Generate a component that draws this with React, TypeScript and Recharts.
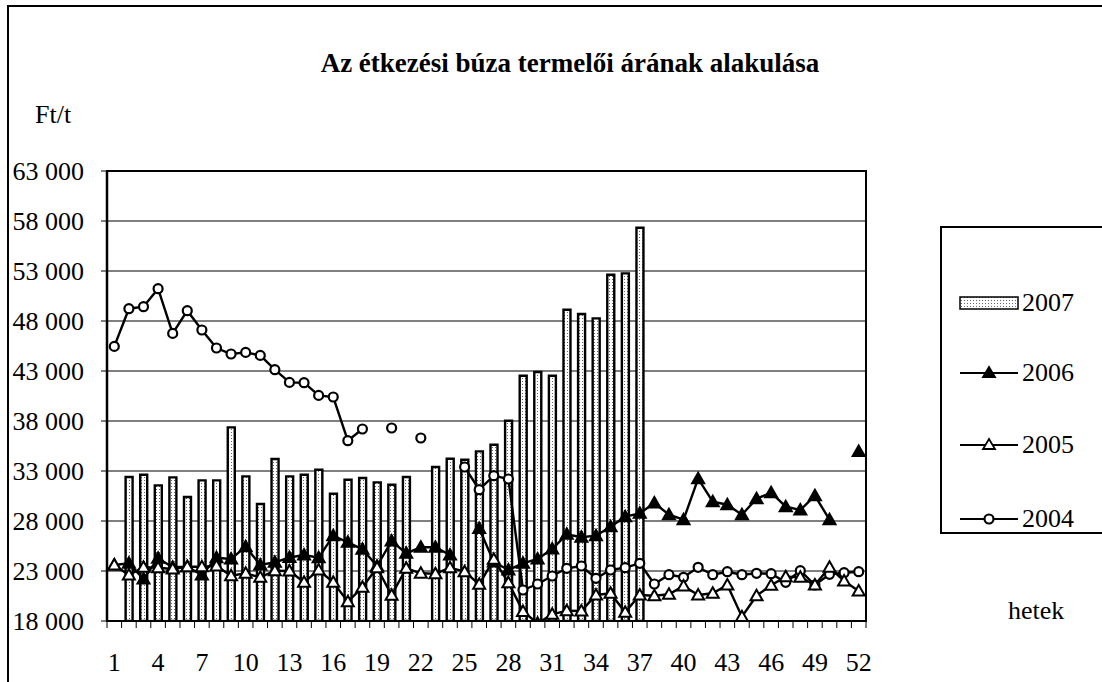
import { ComposedChart, Bar, Line, XAxis, YAxis, CartesianGrid } from 'recharts';

const weeks = [
    1, 2, 3, 4, 5, 6, 7, 8, 9, 10, 11, 12, 13, 14, 15, 16, 17, 18, 19, 20, 21, 22, 23, 24, 25, 26,
    27, 28, 29, 30, 31, 32, 33, 34, 35, 36, 37, 38, 39, 40, 41, 42, 43, 44, 45, 46, 47, 48, 49, 50, 51, 52,
];

const y2007 = [
    null, 32400, 32630, 31560, 32360, 30400, 32060, 32060, 37360, 32460, 29700, 34200, 32460,
    32630, 33130, 30730, 32130, 32300, 31860, 31630, 32400, null, 33400, 34230, 34130, 34960,
    35630, 38030, 42530, 42900, 42530, 49130, 48700, 48260, 52630, 52760, 57330, null, null,
    null, null, null, null, null, null, null, null, null, null, null, null, null,
];

const y2006 = [
    23600, 23770, 22200, 24270, 23370, 23430, 22600, 24330, 24200, 25430, 23600, 23870, 24350,
    24600, 24330, 26530, 25870, 25170, 23500, 26000, 24770, 25370, 25370, 24600, null, 27250,
    23900, 23100, 23770, 24200, 25200, 26670, 26370, 26530, 27430, 28430, 28770, 29800, 28630,
    28130, 32230, 29930, 29630, 28630, 30230, 30830, 29430, 29100, 30530, 28130, null, 34960,
];

const y2005 = [
    23600, 22600, 23370, 23330, 23200, 23430, 23430, 23500, 22530, 22770, 22370, 23030, 23000,
    21870, 23100, 21870, 19930, 21370, 23330, 20570, 23270, 22770, 22730, 23330, 22930, 21670,
    24170, 21830, 18960, 17770, 18670, 19030, 19000, 20600, 20770, 18870, 20600, 20530, 20670,
    21500, 20600, 20770, 21600, 18430, 20530, 21570, 22430, 22370, 21600, 23370, 22000, 21000,
];

const y2004 = [
    45460, 49230, 49430, 51230, 46760, 49030, 47100, 45300, 44700, 44860, 44560, 43130, 41860,
    41830, 40560, 40400, 36030, 37200, null, 37300, null, 36300, null, null, 33400, 31130,
    32530, 32200, 21100, 21700, 22500, 23270, 23500, 22270, 23100, 23330, 23770, 21700, 22630,
    22370, 23370, 22630, 22930, 22630, 22770, 22730, 21870, 23030, 21600, 22670, 22830, 22930,
];

const yTicks = [18000, 23000, 28000, 33000, 38000, 43000, 48000, 53000, 58000, 63000];

const data = weeks.map((w, i) => ({
    week: w,
    y2007: y2007[i],
    y2006: y2006[i],
    y2005: y2005[i],
    y2004: y2004[i],
}));

const FONT = "'Liberation Serif', 'Times New Roman', serif";
const BAND = (866 - 107) / 52;

const fmt = (v: number) => {
    const s = String(v);
    return s.slice(0, s.length - 3) + ' ' + s.slice(-3);
};

const WeekTick = (props: any) => {
    const { x, y, payload, index } = props;
    const showLabel = (payload.value - 1) % 3 === 0;
    return (
        <g>
            <line x1={x - BAND / 2} x2={x - BAND / 2} y1={y} y2={y + 7} stroke="#000" strokeWidth={1} />
            {index === weeks.length - 1 && (
                <line x1={x + BAND / 2} x2={x + BAND / 2} y1={y} y2={y + 7} stroke="#000" strokeWidth={1} />
            )}
            {showLabel && (
                <text x={x} y={y + 50} textAnchor="middle" fill="#000" fontSize={26} fontFamily={FONT}>
                    {payload.value}
                </text>
            )}
        </g>
    );
};

const triangle = (filled: boolean) => (props: any) => {
    const { cx, cy, index, value } = props;
    if (cx == null || cy == null || value == null || Number.isNaN(cy)) return <g key={index} />;
    return (
        <path
            key={index}
            d={`M${cx},${cy - 6} L${cx + 6},${cy + 4.5} L${cx - 6},${cy + 4.5} Z`}
            fill={filled ? '#000' : '#fff'}
            stroke="#000"
            strokeWidth={2}
            strokeLinejoin="miter"
        />
    );
};

const circle = (props: any) => {
    const { cx, cy, index, value } = props;
    if (cx == null || cy == null || value == null || Number.isNaN(cy)) return <g key={index} />;
    return <circle key={index} cx={cx} cy={cy} r={4.5} fill="#fff" stroke="#000" strokeWidth={2.2} />;
};

const LegendRow = ({ top, label, kind }: { top: number; label: string; kind: string }) => (
    <div style={{ position: 'absolute', left: 0, top: top - 15, height: 30, width: 200 }}>
        <svg width={70} height={30} style={{ position: 'absolute', left: 10, top: 0 }}>
            <defs>
                <pattern id={`lg-${label}`} width="3" height="3" patternUnits="userSpaceOnUse">
                    <rect width="3" height="3" fill="#fff" />
                    <rect width="1" height="1" fill="#666" />
                </pattern>
            </defs>
            {kind === 'bar' && (
                <rect x={8} y={9} width={58} height={12} fill={`url(#lg-${label})`} stroke="#000" strokeWidth={1.5} />
            )}
            {kind !== 'bar' && <line x1={8} x2={66} y1={15} y2={15} stroke="#000" strokeWidth={2.2} />}
            {kind === 'tri' && <path d="M37,9 L43,19 L31,19 Z" fill="#000" stroke="#000" strokeWidth={1.8} />}
            {kind === 'otri' && <path d="M37,9 L43,19 L31,19 Z" fill="#fff" stroke="#000" strokeWidth={1.8} />}
            {kind === 'circ' && <circle cx={37} cy={15} r={4.5} fill="#fff" stroke="#000" strokeWidth={2.2} />}
        </svg>
        <span style={{ position: 'absolute', left: 80, top: 0, lineHeight: '30px', fontSize: 26, fontFamily: FONT }}>
            {label}
        </span>
    </div>
);

const App = () => {
    return (
        <div style={{ position: 'relative', width: 1102, height: 682, overflow: 'hidden', background: '#fff', fontFamily: FONT }}>
            <style>{'body{margin:0}'}</style>
            <div style={{ position: 'absolute', left: 7, top: 5, width: 1200, height: 1000, borderLeft: '2px solid #000', borderTop: '2px solid #000' }} />

            <div style={{ position: 'absolute', left: 0, width: 1140, top: 46, textAlign: 'center', fontWeight: 'bold', fontSize: 27, lineHeight: '34px' }}>
                Az étkezési búza termelői árának alakulása
            </div>
            <div style={{ position: 'absolute', left: 35, top: 99, fontSize: 26, lineHeight: '32px' }}>Ft/t</div>
            <div style={{ position: 'absolute', left: 1008, top: 595, fontSize: 26, lineHeight: '32px' }}>hetek</div>

            <ComposedChart width={1102} height={682} data={data} margin={{ top: 171, right: 236, bottom: 21, left: 7 }}>
                <defs>
                    <pattern id="dots2007" width="3" height="3" patternUnits="userSpaceOnUse">
                        <rect width="3" height="3" fill="#fff" />
                        <rect width="1" height="1" fill="#666" />
                    </pattern>
                </defs>
                <CartesianGrid vertical={false} stroke="#000" strokeWidth={1} />
                <XAxis
                    dataKey="week"
                    height={40}
                    interval={0}
                    tickSize={0}
                    tickMargin={0}
                    tickLine={false}
                    axisLine={{ stroke: '#000', strokeWidth: 2 }}
                    tick={<WeekTick />}
                />
                <YAxis
                    domain={[18000, 63000]}
                    ticks={yTicks}
                    allowDataOverflow
                    width={100}
                    tickSize={6}
                    tickMargin={17}
                    tickFormatter={fmt}
                    tickLine={{ stroke: '#000' }}
                    axisLine={{ stroke: '#000', strokeWidth: 2.5 }}
                    tick={{ fill: '#000', fontSize: 26, fontFamily: FONT }}
                />
                <Bar dataKey="y2007" barSize={7} fill="url(#dots2007)" stroke="#000" strokeWidth={2.4} isAnimationActive={false} />
                <Line dataKey="y2004" stroke="#000" strokeWidth={2.4} dot={circle} activeDot={false} isAnimationActive={false} />
                <Line dataKey="y2006" stroke="#000" strokeWidth={2.4} dot={triangle(true)} activeDot={false} isAnimationActive={false} />
                <Line dataKey="y2005" stroke="#000" strokeWidth={2.4} dot={triangle(false)} activeDot={false} isAnimationActive={false} />
            </ComposedChart>

            <div style={{ position: 'absolute', left: 106, top: 170, width: 761, height: 452, border: '2.5px solid #000', boxSizing: 'border-box', pointerEvents: 'none' }} />

            <div style={{ position: 'absolute', left: 940, top: 226, width: 200, height: 308, border: '2px solid #000', boxSizing: 'border-box' }}>
                <LegendRow top={75} label="2007" kind="bar" />
                <LegendRow top={145} label="2006" kind="tri" />
                <LegendRow top={217} label="2005" kind="otri" />
                <LegendRow top={291} label="2004" kind="circ" />
            </div>
        </div>
    );
};

export default App;
